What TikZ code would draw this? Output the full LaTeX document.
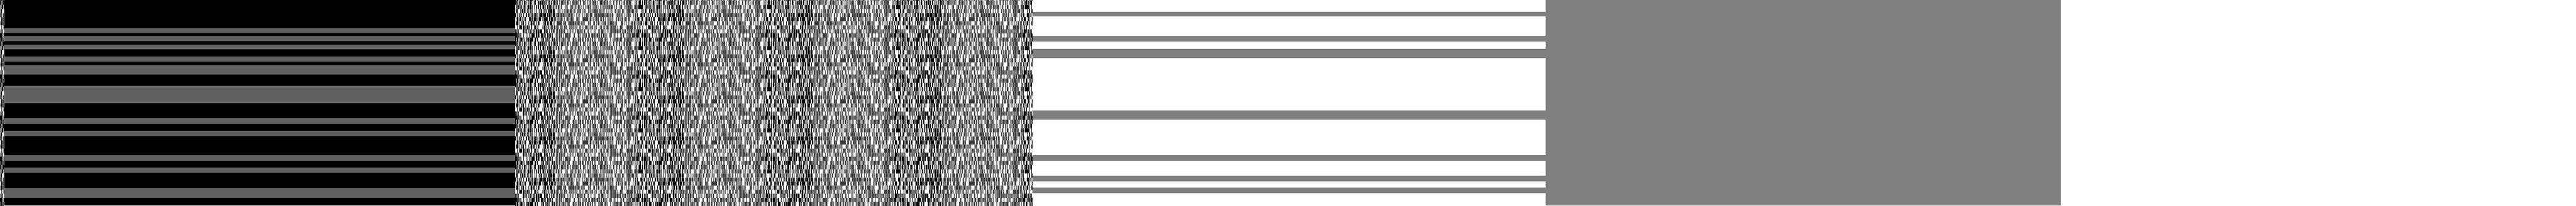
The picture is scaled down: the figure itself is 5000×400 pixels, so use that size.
\documentclass[tikz,border=0pt]{standalone}
\usetikzlibrary{patterns}
\pgfdeclarepatternformonly{noise}{\pgfpointorigin}{\pgfpoint{250pt}{80pt}}{\pgfpoint{250pt}{80pt}}{
  \pgfmathsetseed{11}
  \foreach \i in {0,...,249}{
    \foreach \j in {0,...,9}{
      \pgfmathrandominteger{\r}{0}{1}
      \ifnum\r=1
        \pgfpathrectangle{\pgfpoint{\i pt}{8*\j pt}}{\pgfpoint{1pt}{8pt}}
        \pgfusepath{fill}
      \fi
    }
  }
}
\begin{document}
\begin{tikzpicture}[x=1pt,y=-1pt]
          \useasboundingbox (0,0) rectangle (5000,400);
          % dark panel
          \fill[black] (0,0) rectangle (1000,400);
          \fill[black!62] (8,55) rectangle (1000,64);
          \fill[black!62] (8,70) rectangle (1000,80);
          \fill[black!62] (8,87) rectangle (1000,96);
          \fill[black!62] (8,110) rectangle (1000,120);
          \fill[black!62] (8,127) rectangle (1000,145);
          \fill[black!62] (8,167) rectangle (1000,201);
          \fill[black!62] (8,230) rectangle (1000,241);
          \fill[black!62] (8,255) rectangle (1000,265);
          \fill[black!62] (8,302) rectangle (1000,313);
          \fill[black!62] (8,326) rectangle (1000,336);
          \fill[black!62] (8,366) rectangle (1000,385);
          % noise panel
          \fill[white] (1000,0) rectangle (2004,400);
          \fill[pattern=noise] (1000,0) rectangle (2004,400);
          \fill[white] (0,0) rectangle (8,400);
          \fill[pattern=noise] (0,0) rectangle (8,400);
          % light panel
          \fill[white] (2004,0) rectangle (3000,400);
          \fill[gray] (2004,23) rectangle (3000,32);
          \fill[gray] (2004,70) rectangle (3000,81);
          \fill[gray] (2004,95) rectangle (3000,113);
          \fill[gray] (2004,215) rectangle (3000,233);
          \fill[gray] (2004,302) rectangle (3000,313);
          \fill[gray] (2004,342) rectangle (3000,353);
          \fill[gray] (2004,365) rectangle (3000,376);
          % gray panel
          \fill[gray] (3000,0) rectangle (4000,400);
          % blank panel
          \fill[white] (4000,0) rectangle (5000,400);
\end{tikzpicture}
\end{document}
